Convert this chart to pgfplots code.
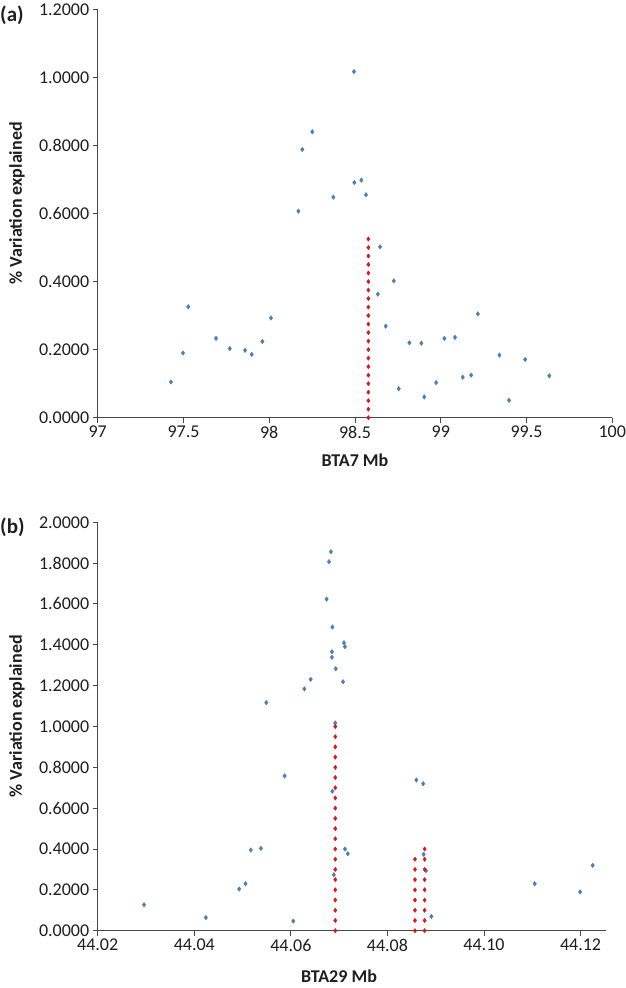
\documentclass[border=0pt]{standalone}
\usepackage{pgfplots}
\pgfplotsset{compat=1.18}
\usepackage{fontspec}
\setmainfont{Carlito}
\definecolor{ptblue}{RGB}{74,126,187}
\definecolor{ptred}{RGB}{218,22,30}
\definecolor{axgray}{RGB}{70,70,70}
\definecolor{txt}{RGB}{30,30,30}
\tikzset{labfont/.style={font=\bfseries\fontsize{18bp}{21bp}\selectfont, text=txt}}

\pgfplotstableread{
x y
97.427 0.105
97.497 0.190
97.528 0.326
97.690 0.233
97.770 0.203
97.859 0.198
97.898 0.186
97.960 0.224
98.010 0.293
98.170 0.607
98.193 0.788
98.251 0.840
98.374 0.648
98.494 1.017
98.496 0.691
98.537 0.698
98.564 0.655
98.646 0.502
98.633 0.363
98.726 0.402
98.679 0.269
98.755 0.085
98.817 0.220
98.887 0.219
98.904 0.061
98.973 0.103
99.021 0.233
99.083 0.236
99.128 0.119
99.177 0.125
99.216 0.305
99.342 0.184
99.398 0.051
99.492 0.171
99.633 0.123
}\dataA

\pgfplotstableread{
x y
98.578 0.000
98.578 0.025
98.578 0.050
98.578 0.075
98.578 0.100
98.578 0.125
98.578 0.150
98.578 0.175
98.578 0.200
98.578 0.225
98.578 0.250
98.578 0.275
98.578 0.300
98.578 0.325
98.578 0.350
98.578 0.375
98.578 0.400
98.578 0.425
98.578 0.450
98.578 0.475
98.578 0.500
98.578 0.525
}\redA

\pgfplotstableread{
x y
44.0296 0.127
44.0424 0.064
44.0493 0.204
44.0506 0.230
44.0517 0.395
44.0538 0.403
44.0549 1.117
44.0587 0.758
44.0605 0.047
44.0628 1.184
44.0641 1.231
44.0674 1.624
44.0679 1.807
44.0683 1.856
44.0685 1.339
44.0685 1.366
44.0686 1.487
44.0686 0.683
44.0689 0.274
44.0692 1.017
44.0693 1.283
44.0708 1.219
44.0710 1.410
44.0712 1.391
44.0712 0.400
44.0718 0.377
44.0860 0.738
44.0874 0.720
44.0875 0.374
44.0880 0.294
44.0891 0.070
44.1105 0.230
44.1199 0.190
44.1225 0.320
}\dataB

\pgfplotstableread{
x y
44.0692 0.00
44.0692 0.05
44.0692 0.10
44.0692 0.15
44.0692 0.20
44.0692 0.25
44.0692 0.30
44.0692 0.35
44.0692 0.40
44.0692 0.45
44.0692 0.50
44.0692 0.55
44.0692 0.60
44.0692 0.65
44.0692 0.70
44.0692 0.75
44.0692 0.80
44.0692 0.85
44.0692 0.90
44.0692 0.95
44.0692 1.00
}\redBa

\pgfplotstableread{
x y
44.0857 0.00
44.0857 0.05
44.0857 0.10
44.0857 0.15
44.0857 0.20
44.0857 0.25
44.0857 0.30
44.0857 0.35
}\redBb

\pgfplotstableread{
x y
44.0877 0.00
44.0877 0.05
44.0877 0.10
44.0877 0.15
44.0877 0.20
44.0877 0.25
44.0877 0.30
44.0877 0.35
44.0877 0.40
}\redBc

\begin{document}
\begin{tikzpicture}
\useasboundingbox (0bp,0bp) rectangle (626bp,988bp);
\pgfplotsset{
  myax/.style={
    scale only axis,
    axis lines=left,
    axis line style={-, axgray, line width=1bp},
    tick align=outside,
    major tick length=5bp,
    tick style={axgray, line width=1bp},
    minor tick num=0,
    clip=false,
    scaled ticks=false,
    ymin=0,
    tick label style={font=\fontsize{18bp}{21bp}\selectfont, text=txt},
    y tick label style={/pgf/number format/.cd, fixed, fixed zerofill, precision=4, assume math mode=true},
  },
  bluepts/.style={only marks, mark=diamond*, mark size=2.4bp, mark options={fill=ptblue, draw=ptblue, line width=0.2bp}},
  redpts/.style={only marks, mark=diamond*, mark size=2.3bp, mark options={fill=ptred, draw=ptred, line width=0.2bp}},
}
\begin{axis}[myax,
  at={(97.7bp,570.3bp)}, anchor=south west,
  width=514.6bp, height=408.4bp,
  xmin=97, xmax=100, ymax=1.2,
  xtick={97,97.5,98,98.5,99,99.5,100},
  ytick={0,0.2,0.4,0.6,0.8,1.0,1.2},
  x tick label style={/pgf/number format/.cd, fixed, precision=1, assume math mode=true},
  xlabel={BTA7 Mb},
  ylabel={\%~Variation explained},
  every axis x label/.style={labfont, at={(axis description cs:0.5,-0.12)}, anchor=base},
  every axis y label/.style={labfont, at={(axis description cs:-0.1568,0.525)}, rotate=90, anchor=center},
]
\addplot[bluepts] table {\dataA};
\addplot[redpts] table {\redA};
\end{axis}
\begin{axis}[myax,
  at={(97.7bp,57.3bp)}, anchor=south west,
  width=508bp, height=408.4bp,
  xmin=44.02, xmax=44.1252, ymax=2.0,
  xtick={44.02,44.04,44.06,44.08,44.10,44.12},
  ytick={0,0.2,0.4,0.6,0.8,1.0,1.2,1.4,1.6,1.8,2.0},
  x tick label style={/pgf/number format/.cd, fixed, fixed zerofill, precision=2, assume math mode=true},
  xlabel={BTA29 Mb},
  ylabel={\%~Variation explained},
  every axis x label/.style={labfont, at={(axis description cs:0.475,-0.128)}, anchor=base},
  every axis y label/.style={labfont, at={(axis description cs:-0.1589,0.525)}, rotate=90, anchor=center},
]
\addplot[bluepts] table {\dataB};
\addplot[redpts] table {\redBa};
\addplot[redpts] table {\redBb};
\addplot[redpts] table {\redBc};
\end{axis}
\node[anchor=west, inner sep=0pt, font=\bfseries\fontsize{21bp}{21bp}\selectfont, text=txt] at (0bp,973bp) {(a)};
\node[anchor=west, inner sep=0pt, font=\bfseries\fontsize{21bp}{21bp}\selectfont, text=txt] at (0bp,461bp) {(b)};
\end{tikzpicture}
\end{document}
